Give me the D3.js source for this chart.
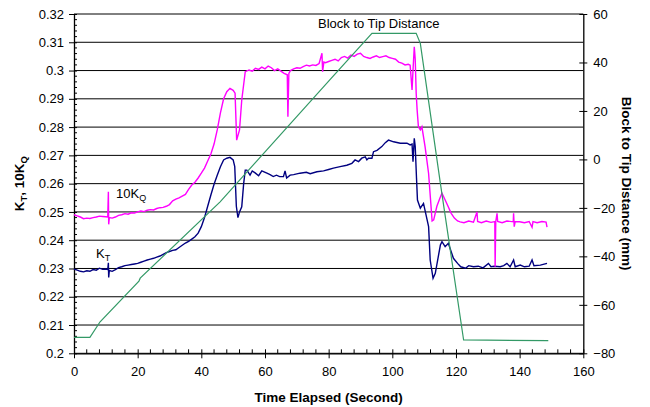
<!DOCTYPE html>
<html>
<head>
<meta charset="utf-8">
<script src="https://cdn.jsdelivr.net/npm/d3@7"></script>
<style>
  html, body { margin: 0; padding: 0; background: #fff; }
  svg { display: block; font-family: Arial, "Liberation Sans", sans-serif; }
</style>
</head>
<body>
<svg id="chart" width="650" height="407"></svg>
<script>
// Tick values for the three axes
const timeTicks = [0, 20, 40, 60, 80, 100, 120, 140, 160];
const coefTicks = [0.2, 0.21, 0.22, 0.23, 0.24, 0.25, 0.26, 0.27, 0.28, 0.29, 0.3, 0.31, 0.32];
const coefTickLabels = ["0.2", "0.21", "0.22", "0.23", "0.24", "0.25", "0.26", "0.27", "0.28", "0.29", "0.3", "0.31", "0.32"];
const distTicks = [-80, -60, -40, -20, 0, 20, 40, 60];

// Thrust coefficient K_T : [time (s), value]
const ktSeries = [
  [0,0.2298],[1,0.2294],[2,0.2290],[3,0.2288],[4,0.2292],[5,0.2290],[6,0.2296],[7,0.2294],
  [8,0.2301],[9,0.2297],[10,0.2298],[10.6,0.2296],[10.8,0.2320],[10.9,0.2268],[11.1,0.2293],
  [12,0.2290],[13,0.2296],[14,0.2303],[15,0.2306],[16,0.2310],[17,0.2312],[18,0.2314],
  [19,0.2316],[20,0.2318],[21,0.2322],[22,0.2326],[23,0.2330],[24,0.2333],[25,0.2336],
  [26,0.2340],[27,0.2344],[28,0.2350],[29,0.2356],[30,0.2360],[31,0.2364],[32,0.2366],
  [33,0.2374],[34,0.2382],[35,0.2390],[36,0.2396],[37,0.2404],[38,0.2412],[39,0.2425],
  [40,0.2448],[41,0.2480],[42,0.2520],[43,0.2560],[44,0.2598],[45,0.2630],[46,0.2660],
  [47,0.2684],[48,0.2690],[49,0.2693],[50,0.2684],[50.5,0.2660],[51,0.2520],[51.5,0.2480],
  [52,0.2500],[52.7,0.2518],[53.3,0.2600],[53.8,0.2648],[54.3,0.2648],[55.3,0.2630],
  [56,0.2645],[56.9,0.2638],[58,0.2628],[59,0.2645],[60.6,0.2637],[61.6,0.2632],
  [62.6,0.2625],[63.6,0.2630],[64.6,0.2625],[65.8,0.2625],[66.3,0.2645],[66.8,0.2620],
  [67.9,0.2630],[69,0.2632],[71,0.2637],[73,0.2640],[74.2,0.2635],[76.3,0.2642],
  [78.4,0.2645],[80,0.2650],[81.5,0.2655],[83.6,0.2660],[85.7,0.2665],[87.3,0.2672],
  [88.3,0.2684],[89.4,0.2678],[90.4,0.2690],[91.5,0.2695],[92,0.2684],[92.5,0.2690],
  [93.6,0.2690],[94.1,0.2713],[95.2,0.2718],[96.7,0.2731],[97.8,0.2745],[98.8,0.2754],
  [100.4,0.2748],[102.5,0.2743],[104.6,0.2743],[105.6,0.2737],[106.2,0.2740],[106.5,0.2678],
  [106.9,0.2760],[107.2,0.2731],[107.6,0.2620],[107.9,0.2542],[108.8,0.2513],[109.8,0.2530],
  [111.4,0.2448],[111.9,0.2330],[112.8,0.2265],[113.5,0.2283],[115.1,0.2383],[115.6,0.2395],
  [116.6,0.2377],[117.6,0.2389],[119.2,0.2336],[120.5,0.2318],[121.5,0.2306],[123,0.2301],
  [124,0.2310],[125.5,0.2306],[127,0.2308],[128.5,0.2302],[130.2,0.2318],[131,0.2306],
  [132,0.2308],[133.9,0.2306],[135,0.2310],[136,0.2318],[137,0.2306],[138.1,0.2330],
  [138.6,0.2306],[140.2,0.2312],[141.5,0.2306],[143,0.2308],[143.9,0.2330],[144.5,0.2310],
  [146.5,0.2312],[148.6,0.2318]
];

// Torque coefficient ×10 (10K_Q) : [time (s), value]
const kqSeries = [
  [0,0.2490],[1,0.2486],[2,0.2482],[3,0.2476],[4,0.2478],[5,0.2477],[6,0.2480],[7,0.2482],
  [8,0.2485],[9,0.2484],[10,0.2483],[10.6,0.2482],[10.8,0.2571],[10.9,0.2456],[11.1,0.2480],
  [12,0.2478],[13,0.2482],[14,0.2488],[15,0.2490],[16,0.2494],[17,0.2492],[18,0.2497],
  [19,0.2496],[20,0.2500],[21,0.2503],[22,0.2501],[23,0.2506],[24,0.2508],[25,0.2507],
  [26,0.2512],[27,0.2515],[28,0.2516],[29,0.2520],[30,0.2526],[31,0.2539],[32,0.2545],
  [33,0.2550],[34,0.2556],[35,0.2562],[36,0.2580],[37,0.2595],[38,0.2605],[39,0.2620],
  [40,0.2637],[41,0.2655],[42,0.2680],[43,0.2705],[44,0.2740],[45,0.2790],[46,0.2850],
  [47,0.2900],[48,0.2925],[49,0.2937],[50,0.2930],[50.6,0.2920],[51.1,0.2754],[52,0.2790],
  [52.7,0.2896],[53.8,0.2996],[55,0.3002],[56,0.2998],[57,0.3008],[58,0.3004],[59,0.3012],
  [60,0.3006],[61,0.3016],[62,0.3010],[63,0.3000],[64,0.3006],[65,0.2998],[66,0.2990],
  [67,0.2985],[67.2,0.2837],[67.5,0.2990],[68,0.3000],[69,0.3006],[70,0.3010],[71,0.3008],
  [72,0.3014],[73,0.3019],[74,0.3016],[75,0.3020],[76,0.3018],[77,0.3025],[77.9,0.3061],
  [78.1,0.2996],[78.5,0.3030],[79,0.3028],[80,0.3032],[81,0.3036],[82,0.3040],[83,0.3034],
  [84,0.3046],[85,0.3050],[86,0.3044],[87,0.3055],[88,0.3050],[89,0.3058],[90,0.3061],
  [91,0.3050],[92,0.3046],[93,0.3043],[94,0.3048],[95,0.3052],[96,0.3046],[97,0.3049],
  [98,0.3052],[99,0.3046],[100,0.3043],[101,0.3040],[102,0.3030],[103,0.3026],[104,0.3020],
  [105,0.3022],[105.6,0.3019],[106.2,0.2931],[106.5,0.3000],[106.9,0.3084],[107.2,0.3040],
  [107.5,0.2920],[107.8,0.2860],[108.2,0.2801],[108.8,0.2790],[109.3,0.2801],[110.3,0.2730],
  [111.4,0.2636],[112.1,0.2530],[112.5,0.2468],[113,0.2472],[114,0.2520],[115,0.2550],
  [115.6,0.2566],[116.5,0.2545],[117.5,0.2520],[118.5,0.2495],[119.5,0.2478],[120.5,0.2468],
  [121.3,0.2465],[122.5,0.2462],[124,0.2468],[125.5,0.2464],[126.6,0.2500],[126.8,0.2466],
  [128,0.2462],[129.5,0.2468],[131,0.2463],[132.2,0.2466],[132.3,0.2306],[132.5,0.2466],
  [132.9,0.2495],[133.1,0.2466],[134.5,0.2462],[136,0.2468],[138,0.2465],[138.1,0.2495],
  [138.3,0.2448],[138.6,0.2466],[140,0.2465],[141.5,0.2462],[143,0.2466],[143.9,0.2446],
  [144.2,0.2466],[145.5,0.2462],[147,0.2466],[148.3,0.2464],[148.6,0.2446]
];

// Block to tip distance (mm) : [time (s), distance]
const distSeries = [
  [0,-73.4],[5,-73.4],[8.2,-67.0],[20.4,-50.2],[20.8,-49.0],[45.9,-17.5],[80.5,33.0],
  [93.6,52],[107.5,52],[108.8,47.9],[115.1,-9.9],[122.4,-74.5],[149,-74.8]
];

const svg = d3.select("#chart");
const plot = { left: 74, right: 583.3, top: 14, bottom: 353.3 };

const x = d3.scaleLinear().domain([0, 160]).range([plot.left, plot.right]);
const yL = d3.scaleLinear().domain([0.2, 0.32]).range([plot.bottom, plot.top]);
const yR = d3.scaleLinear().domain([-80, 60]).range([plot.bottom, plot.top]);

// Horizontal gridlines
svg.append("g").selectAll("line").data(coefTicks).join("line")
  .attr("x1", plot.left).attr("x2", plot.right)
  .attr("y1", d => yL(d)).attr("y2", d => yL(d))
  .attr("stroke", "#000").attr("stroke-width", 1);

// Left axis
const leftAxis = svg.append("g").attr("transform", `translate(${plot.left},0)`)
  .call(d3.axisLeft(yL).tickValues(coefTicks).tickFormat((d, i) => coefTickLabels[i])
    .tickSizeInner(5).tickSizeOuter(0).tickPadding(5));
leftAxis.selectAll("g.tick line").attr("x2", -5).attr("x1", 3);
leftAxis.append("g").selectAll("line").data(d3.range(0.202, 0.3199, 0.002).filter(v => Math.abs(v * 100 - Math.round(v * 100)) > 1e-6))
  .join("line").attr("x1", 0).attr("x2", 3).attr("y1", d => yL(d)).attr("y2", d => yL(d))
  .attr("stroke", "#000");

// Bottom axis
const bottomAxis = svg.append("g").attr("transform", `translate(0,${plot.bottom})`)
  .call(d3.axisBottom(x).tickValues(timeTicks).tickFormat(d3.format("d"))
    .tickSizeInner(5).tickSizeOuter(0).tickPadding(8));
bottomAxis.selectAll("g.tick line").attr("y1", -4).attr("y2", 5);
bottomAxis.append("g").selectAll("line").data(d3.range(4, 160, 4).filter(v => v % 20 !== 0))
  .join("line").attr("x1", d => x(d)).attr("x2", d => x(d)).attr("y1", 0).attr("y2", -4)
  .attr("stroke", "#000");

// Right axis
const rightAxis = svg.append("g").attr("transform", `translate(${plot.right},0)`)
  .call(d3.axisRight(yR).tickValues(distTicks).tickFormat(d3.format("d"))
    .tickSizeInner(4).tickSizeOuter(0).tickPadding(6));
rightAxis.selectAll("g.tick line").attr("x1", -4).attr("x2", 4);

[leftAxis, bottomAxis, rightAxis].forEach(a => {
  a.select(".domain").attr("stroke", "#000").attr("stroke-width", 1.3);
  a.selectAll("text").attr("font-size", 13).attr("fill", "#000")
    .attr("font-family", 'Arial, "Liberation Sans", sans-serif');
});

// Data lines
const lineL = d3.line().x(d => x(d[0])).y(d => yL(d[1]));
const lineR = d3.line().x(d => x(d[0])).y(d => yR(d[1]));

svg.append("path").datum(ktSeries).attr("d", lineL)
  .attr("fill", "none").attr("stroke", "#000080").attr("stroke-width", 1.4);
svg.append("path").datum(kqSeries).attr("d", lineL)
  .attr("fill", "none").attr("stroke", "#ff00ff").attr("stroke-width", 1.4);
svg.append("path").datum(distSeries).attr("d", lineR)
  .attr("fill", "none").attr("stroke", "#339966").attr("stroke-width", 1.2);

// In-plot series labels
const kqLabel = svg.append("text").attr("x", 116).attr("y", 198).attr("font-size", 13);
kqLabel.append("tspan").text("10K");
kqLabel.append("tspan").attr("font-size", 9).attr("dy", 3).text("Q");

const ktLabel = svg.append("text").attr("x", 96).attr("y", 258).attr("font-size", 13);
ktLabel.append("tspan").text("K");
ktLabel.append("tspan").attr("font-size", 9).attr("dy", 3).text("T");

svg.append("text").attr("x", 318).attr("y", 28).attr("font-size", 13)
  .text("Block to Tip Distance");

// Axis titles
svg.append("text").attr("x", (plot.left + plot.right) / 2 + 0).attr("y", 402)
  .attr("text-anchor", "middle").attr("font-size", 13.5).attr("font-weight", "bold")
  .text("Time Elapsed (Second)");

const leftTitle = svg.append("text")
  .attr("transform", `translate(24,${(plot.top + plot.bottom) / 2}) rotate(-90)`)
  .attr("text-anchor", "middle").attr("font-size", 13.5).attr("font-weight", "bold");
leftTitle.append("tspan").text("K");
leftTitle.append("tspan").attr("font-size", 9.5).attr("dy", 3).text("T");
leftTitle.append("tspan").attr("dy", -3).text(", 10K");
leftTitle.append("tspan").attr("font-size", 9.5).attr("dy", 3).text("Q");

svg.append("text")
  .attr("transform", `translate(622,${(plot.top + plot.bottom) / 2}) rotate(90)`)
  .attr("text-anchor", "middle").attr("font-size", 13.5).attr("font-weight", "bold")
  .text("Block to Tip Distance (mm)");
</script>
</body>
</html>
